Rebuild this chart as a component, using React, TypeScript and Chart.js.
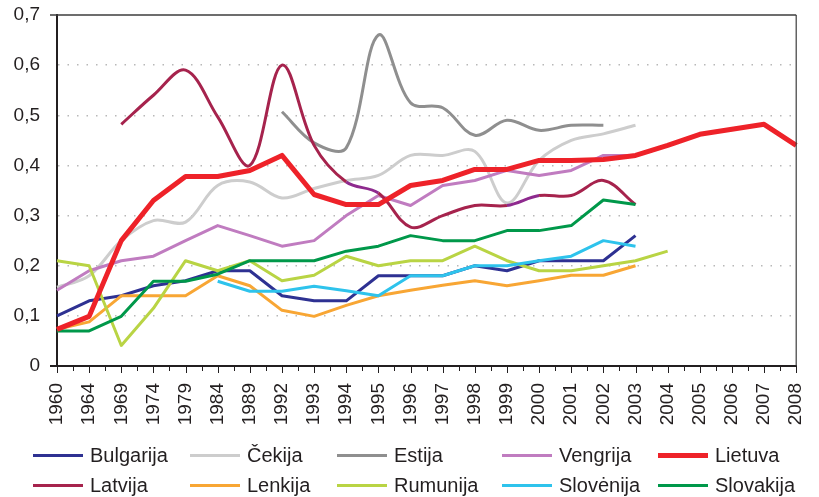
import React, { useEffect, useRef } from "react";
import { Chart, registerables } from "chart.js";

Chart.register(...registerables);

const years = ["1960","1964","1969","1974","1979","1984","1989","1992","1993","1994","1995","1996","1997","1998","1999","2000","2001","2002","2003","2004","2005","2006","2007","2008"];

const bulgarija = [0.10,0.13,0.14,0.16,0.17,0.19,0.19,0.14,0.13,0.13,0.18,0.18,0.18,0.20,0.19,0.21,0.21,0.21,0.26,null,null,null,null,null];
const cekija = [0.157,0.18,0.25,0.29,0.287,0.36,0.367,0.335,0.354,0.37,0.38,0.42,0.42,0.428,0.325,0.41,0.45,0.463,0.48,null,null,null,null,null];
const estija = [null,null,null,null,null,null,null,0.507,0.445,0.435,0.66,0.525,0.515,0.46,0.49,0.47,0.48,0.48,null,null,null,null,null,null];
const vengrija = [0.151,0.19,0.21,0.219,0.25,0.28,0.26,0.239,0.25,0.30,0.34,0.32,0.36,0.37,0.39,0.38,0.39,0.42,0.42,null,null,null,null,null];
const lietuva = [0.073,0.099,0.25,0.33,0.378,0.378,0.39,0.42,0.342,0.322,0.322,0.36,0.37,0.392,0.392,0.41,0.41,0.412,0.42,0.44,0.462,0.472,0.482,0.44];
const latvija = [null,null,0.482,0.54,0.59,0.497,0.40,0.60,0.44,0.367,0.345,0.277,0.30,0.32,0.32,0.34,0.34,0.37,0.322,null,null,null,null,null];
const lenkija = [0.073,0.088,0.14,0.14,0.14,0.18,0.16,0.111,0.099,0.121,0.14,0.151,0.161,0.17,0.16,0.17,0.181,0.181,0.20,null,null,null,null,null];
const rumunija = [0.21,0.20,0.041,0.115,0.21,0.19,0.21,0.17,0.181,0.219,0.20,0.21,0.21,0.239,0.21,0.19,0.19,0.20,0.21,0.229,null,null,null,null];
const slovenija = [null,null,null,null,null,0.169,0.149,0.149,0.159,0.15,0.14,0.18,0.18,0.20,0.20,0.21,0.219,0.25,0.239,null,null,null,null,null];
const slovakija = [0.07,0.07,0.099,0.169,0.169,0.183,0.21,0.21,0.21,0.229,0.239,0.26,0.25,0.25,0.27,0.27,0.28,0.331,0.322,null,null,null,null,null];

const seriesNames = ["Bulgarija","Čekija","Estija","Vengrija","Lietuva","Latvija","Lenkija","Rumunija","Slovėnija","Slovakija"];
const seriesData = [bulgarija,cekija,estija,vengrija,lietuva,latvija,lenkija,rumunija,slovenija,slovakija];
const seriesColors = ["#2e3192","#cdcdcd","#8f8f8f","#c07cc0","#ee2229","#a6234d","#f8a634","#b9d444","#2ec3ec","#00984a"];
const seriesWidths = [3,3,3,3,5,3,3,3,3,3];
const seriesTension = [0,0.35,0.35,0,0,0.35,0,0,0,0];
const latvijaPurple = "#8e2a8e";

const FONT = '"Liberation Sans", Arial, sans-serif';
const TEXT = "#231f20";

const legendCols = [33, 190, 337, 502, 658];
const legendRows = [455, 485];

const framePlugin = {
  id: "frame",
  afterDraw(chart: any) {
    const { ctx, chartArea } = chart;
    const { left, right, top, bottom } = chartArea;
    ctx.save();
    ctx.strokeStyle = "#3c3c3c";
    ctx.lineWidth = 1.5;
    ctx.beginPath();
    ctx.moveTo(left - 7, top);
    ctx.lineTo(right, top);
    ctx.stroke();
    ctx.lineWidth = 1.2;
    ctx.beginPath();
    ctx.moveTo(right, top);
    ctx.lineTo(right, bottom);
    ctx.stroke();
    ctx.strokeStyle = TEXT;
    ctx.lineWidth = 2;
    ctx.beginPath();
    ctx.moveTo(left - 7, bottom);
    ctx.lineTo(left, bottom);
    ctx.stroke();
    // major and minor tick marks below the category axis
    const xs = chart.scales.x;
    ctx.lineWidth = 1;
    ctx.beginPath();
    for (let i = 0; i < years.length; i++) {
      const a = Math.round(xs.getPixelForTick(i)) + 0.5;
      ctx.moveTo(a, bottom);
      ctx.lineTo(a, bottom + 7);
      if (i < years.length - 1) {
        const b = xs.getPixelForTick(i + 1);
        const m = Math.round((xs.getPixelForTick(i) + b) / 2) + 0.5;
        ctx.moveTo(m, bottom);
        ctx.lineTo(m, bottom + 5);
      }
    }
    ctx.stroke();
    ctx.restore();
  },
};

export default function App() {
  const ref = useRef<HTMLCanvasElement | null>(null);

  useEffect(() => {
    if (!ref.current) return;
    const datasets = seriesNames.map((name, i) => {
      const ds: any = {
        label: name,
        data: seriesData[i],
        borderColor: seriesColors[i],
        backgroundColor: seriesColors[i],
        borderWidth: seriesWidths[i],
        tension: seriesTension[i],
        pointRadius: 0,
        pointHoverRadius: 0,
        fill: false,
        spanGaps: false,
        borderCapStyle: "butt",
        borderJoinStyle: "round",
        order: name === "Lietuva" ? 0 : 20 - i,
      };
      if (name === "Latvija") {
        ds.segment = {
          borderColor: (c: any) =>
            c.p0DataIndex === 9 || c.p0DataIndex === 14 ? latvijaPurple : undefined,
        };
      }
      return ds;
    });

    const chart = new Chart(ref.current, {
      type: "line",
      data: { labels: years, datasets },
      options: {
        animation: false,
        responsive: false,
        devicePixelRatio: 1,
        layout: { padding: { top: 15, right: 19, left: 0, bottom: 0 } },
        plugins: { legend: { display: false }, tooltip: { enabled: false } },
        scales: {
          x: {
            type: "category",
            offset: false,
            afterFit: (s: any) => { s.height = 131; },
            grid: {
              display: true,
              drawOnChartArea: false,
              drawTicks: true,
              tickLength: 17,
              color: "rgba(0,0,0,0)",
              tickColor: "rgba(0,0,0,0)",
              lineWidth: 1,
            },
            border: { display: true, color: TEXT, width: 2 },
            ticks: {
              autoSkip: false,
              minRotation: 90,
              maxRotation: 90,
              padding: 0,
              color: TEXT,
              font: { family: FONT, size: 19 },
            },
          },
          y: {
            min: 0,
            max: 0.7,
            afterFit: (s: any) => { s.width = 57; },
            grid: {
              drawTicks: true,
              tickLength: 17,
              tickColor: "rgba(0,0,0,0)",
              lineWidth: 1.5,
              color: (c: any) =>
                c.tick && (Math.abs(c.tick.value) < 1e-6 || c.tick.value > 0.69)
                  ? "rgba(0,0,0,0)"
                  : "#b8b8b8",
            },
            border: { display: true, color: TEXT, width: 2, dash: [1.5, 8] },
            ticks: {
              stepSize: 0.1,
              padding: 0,
              color: TEXT,
              font: { family: FONT, size: 19 },
              callback: (v: any) => {
                const n = Number(v);
                if (Math.abs(n) < 1e-9) return "0";
                return n.toFixed(1).replace(".", ",");
              },
            },
          },
        },
      },
      plugins: [framePlugin],
    });
    return () => chart.destroy();
  }, []);

  return (
    <div style={{ position: "fixed", left: 0, top: 0, width: 819, height: 497, background: "#fff", fontFamily: FONT }}>
      <canvas ref={ref} width={819} height={497} style={{ position: "absolute", left: 0, top: 0, width: 819, height: 497 }} />
      {seriesNames.map((name, i) => {
        const col = i % 5;
        const row = Math.floor(i / 5);
        const x = legendCols[col];
        const y = legendRows[row];
        const h = seriesWidths[i] > 3 ? 5 : 3;
        return (
          <div key={name}>
            <div style={{ position: "absolute", left: x, top: y - h / 2, width: 50, height: h, background: seriesColors[i] }} />
            <div style={{ position: "absolute", left: x + 57, top: y - 12, height: 24, lineHeight: "24px", fontSize: 20, color: TEXT, whiteSpace: "nowrap" }}>
              {name}
            </div>
          </div>
        );
      })}
    </div>
  );
}
